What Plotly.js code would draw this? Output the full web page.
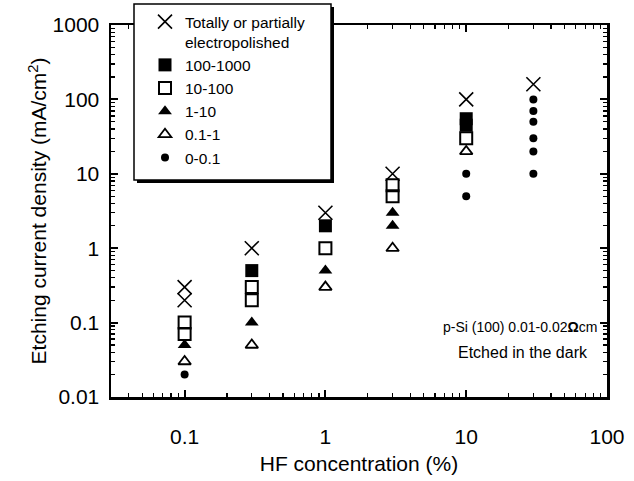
<!DOCTYPE html>
<html><head><meta charset="utf-8">
<script src="https://cdn.plot.ly/plotly-3.0.1.min.js"></script>
<style>body{margin:0;background:#fff}</style>
</head><body><div id="chart" style="width:634px;height:481px"></div>
<script>
// Legend labels (class of etching rate)
const legendLabels = ["Totally or partially<br>electropolished", "100-1000", "10-100", "1-10", "0.1-1", "0-0.1"];
// Tick labels
const xTickVals = [0.1, 1, 10, 100];
const xTickText = ["0.1", "1", "10", "100"];
const yTickVals = [0.01, 0.1, 1, 10, 100, 1000];
const yTickText = ["0.01", "0.1", "1", "10", "100", "1000"];
// HF concentration (%) / etching current density (mA/cm2) per class
const xElectro = [0.1, 0.1, 0.3, 1, 3, 10, 30];
const yElectro = [0.3, 0.2, 1, 3, 10, 100, 160];
const x100_1000 = [0.3, 1, 10, 10];
const y100_1000 = [0.5, 2, 55, 45];
const x10_100 = [0.1, 0.1, 0.3, 0.3, 1, 3, 3, 10];
const y10_100 = [0.1, 0.07, 0.3, 0.2, 1, 7, 5, 30];
const x1_10 = [0.1, 0.3, 1, 3, 3];
const y1_10 = [0.05, 0.1, 0.5, 3, 2];
const x01_1 = [0.1, 0.3, 1, 3, 10];
const y01_1 = [0.03, 0.05, 0.3, 1, 20];
const x0_01 = [0.1, 10, 10, 30, 30, 30, 30, 30, 30];
const y0_01 = [0.02, 10, 5, 100, 70, 50, 30, 20, 10];

const FONT = "Arial, 'Liberation Sans', sans-serif";
const M = {l: 111, r: 27, t: 25, b: 84, autoexpand: false};
const W = 634, H = 481;
const PW = W - M.l - M.r, PH = H - M.t - M.b;
const px = v => (v - M.l) / PW;
const py = v => (H - M.b - v) / PH;

const seriesX = [xElectro, x100_1000, x10_100, x1_10, x01_1, x0_01];
const seriesY = [yElectro, y100_1000, y10_100, y1_10, y01_1, y0_01];
const markers = [
  {symbol: 'x-thin-open', size: 14, color: '#000', line: {width: 1.6, color: '#000'}},
  {symbol: 'square', size: 13, color: '#000', line: {width: 0}},
  {symbol: 'square-open', size: 12, color: '#000', line: {width: 2, color: '#000'}},
  {symbol: 'triangle-up', size: 12, color: '#000', line: {width: 0}},
  {symbol: 'triangle-up-open', size: 11, color: '#000', line: {width: 1.8, color: '#000'}},
  {symbol: 'circle', size: 8, color: '#000', line: {width: 0}}
];
const traces = legendLabels.map((name, i) => ({
  type: 'scatter', mode: 'markers', name: name,
  x: seriesX[i], y: seriesY[i], marker: markers[i], cliponaxis: false
}));

function minorVals(lo, hi) {
  const out = [];
  for (let e = lo; e < hi; e++) for (let d = 2; d <= 9; d++) out.push(d * Math.pow(10, e));
  return out;
}
const axisBase = {
  type: 'log', showgrid: false, zeroline: false, showline: true, linecolor: '#000', linewidth: 2.5,
  mirror: 'ticks', ticks: 'inside', ticklen: 7, tickwidth: 2, tickcolor: '#000', automargin: false,
  tickfont: {family: FONT, size: 21, color: '#000'}
};
const layout = {
  width: W, height: H, margin: M, paper_bgcolor: '#fff', plot_bgcolor: '#fff',
  showlegend: true,
  xaxis: Object.assign({}, axisBase, {
    range: [Math.log10(0.03), 2], tickmode: 'array', tickvals: xTickVals, ticktext: xTickText,
    ticklabelstandoff: 19,
    minor: {tickmode: 'array', tickvals: minorVals(-2, 2), ticks: 'inside', ticklen: 4, tickwidth: 1.3, tickcolor: '#000', showgrid: false},
    title: {text: 'HF concentration (%)', font: {family: FONT, size: 21, color: '#000'}, standoff: 10}
  }),
  yaxis: Object.assign({}, axisBase, {
    range: [-2, 3], tickmode: 'array', tickvals: yTickVals, ticktext: yTickText,
    ticklabelstandoff: 5,
    minor: {tickmode: 'array', tickvals: minorVals(-2, 3), ticks: 'inside', ticklen: 4, tickwidth: 1.3, tickcolor: '#000', showgrid: false},
    title: {text: 'Etching current density (mA/cm<sup>2</sup>)', font: {family: FONT, size: 21, color: '#000'}, standoff: 0}
  }),
  legend: {
    x: px(145), y: py(5), xanchor: 'left', yanchor: 'top', bgcolor: 'rgba(0,0,0,0)', borderwidth: 0,
    font: {family: FONT, size: 15.5, color: '#000'}, valign: 'top', tracegroupgap: 0
  },
  shapes: [
    {type: 'rect', xref: 'paper', yref: 'paper', x0: px(137), x1: px(334), y0: py(7), y1: py(183), fillcolor: '#000', line: {width: 0}, layer: 'above'},
    {type: 'rect', xref: 'paper', yref: 'paper', x0: px(134), x1: px(331), y0: py(4), y1: py(180), fillcolor: '#fff', line: {width: 1.5, color: '#000'}, layer: 'above'}
  ],
  annotations: [
    {xref: 'paper', yref: 'paper', x: px(441), y: py(327), xanchor: 'left', yanchor: 'middle', showarrow: false,
     text: 'p-Si (100) 0.01-0.02<b>Ω</b>cm', font: {family: FONT, size: 14, color: '#000'}},
    {xref: 'paper', yref: 'paper', x: px(456), y: py(352), xanchor: 'left', yanchor: 'middle', showarrow: false,
     text: 'Etched in the dark', font: {family: FONT, size: 16, color: '#000'}}
  ]
};
Plotly.newPlot('chart', traces, layout, {displayModeBar: false, staticPlot: true});
</script></body></html>
